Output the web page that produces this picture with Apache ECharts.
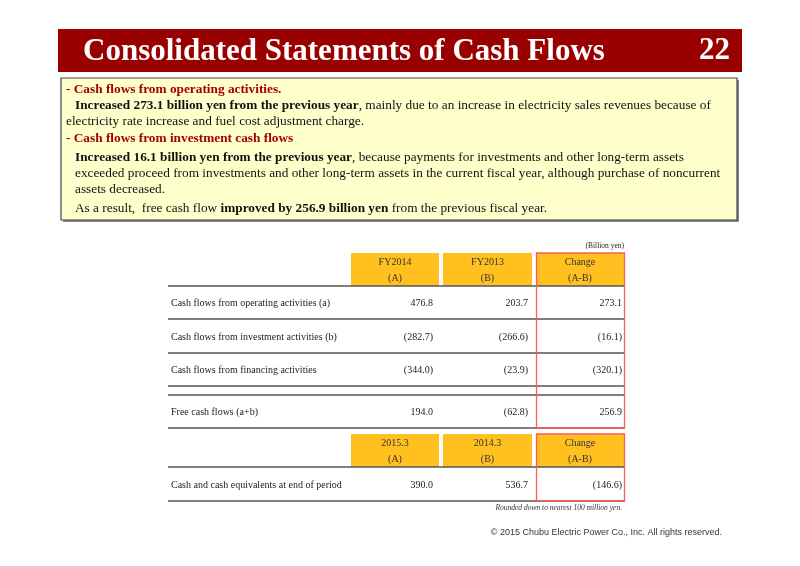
<!DOCTYPE html>
<html>
<head>
<meta charset="utf-8">
<script src="https://cdn.jsdelivr.net/npm/echarts@6/dist/echarts.min.js"></script>
<style>
  html, body { margin: 0; padding: 0; background: #fff; }
  #main { width: 800px; height: 566px; }
</style>
</head>
<body>
<div id="main"></div>
<script>
// table data (billion yen, negatives shown in brackets)
const rowLabels = [
  'Cash flows from operating activities (a)',
  'Cash flows from investment activities (b)',
  'Cash flows from financing activities',
  'Free cash flows (a+b)'
]
const fy2014 = [476.8, -282.7, -344.0, 194.0]
const fy2013 = [203.7, -266.6, -23.9, -62.8]
const change = [273.1, -16.1, -320.1, 256.9]
const headers1 = [['FY2014', '(A)'], ['FY2013', '(B)'], ['Change', '(A-B)']]

const cashLabels = ['Cash and cash equivalents at end of period']
const cash2015 = [390.0]
const cash2014 = [536.7]
const cashChange = [-146.6]
const headers2 = [['2015.3', '(A)'], ['2014.3', '(B)'], ['Change', '(A-B)']]

const SERIF = '"Liberation Serif", "DejaVu Serif", serif'
const RED = '#a50000'

const fmt = v => v < 0 ? '(' + Math.abs(v).toFixed(1) + ')' : v.toFixed(1)

const chart = echarts.init(document.getElementById('main'))
const g = []

const text = (x, y, str, o = {}) => g.push({
  type: 'text', x, y, z: 10,
  style: Object.assign({
    text: str, font: '10px ' + SERIF, fill: '#222',
    textAlign: 'left', textVerticalAlign: 'middle'
  }, o)
})
const hline = (x1, x2, y, c = '#555', w = 1.5) => g.push({
  type: 'line', shape: { x1, y1: y, x2, y2: y }, z: 5,
  style: { stroke: c, lineWidth: w }
})

// title bar
g.push({ type: 'rect', shape: { x: 58, y: 29, width: 684, height: 43 }, style: { fill: '#990000' } })
text(83, 52, 'Consolidated Statements of Cash Flows', { font: 'bold 31px ' + SERIF, fill: '#fff' })
text(730, 51, '22', { font: 'bold 31px ' + SERIF, fill: '#fff', textAlign: 'right' })

// summary box
g.push({ type: 'rect', shape: { x: 63, y: 80, width: 676, height: 142 }, style: { fill: '#888' } })
g.push({ type: 'rect', shape: { x: 61, y: 78, width: 676, height: 142 }, style: { fill: '#ffffcc', stroke: '#444', lineWidth: 1.2 } })

const rich = {
  r: { font: 'bold 13.3px ' + SERIF, fill: RED },
  b: { font: 'bold 13.3px ' + SERIF, fill: '#111' },
  n: { font: '13.3px ' + SERIF, fill: '#111' }
}
const boxLines = [
  [66, 90, '{r|- Cash flows from operating activities.}'],
  [75, 106, '{b|Increased 273.1 billion yen from the previous year}{n|, mainly due to an increase in electricity sales revenues because of}'],
  [66, 122, '{n|electricity rate increase and fuel cost adjustment charge.}'],
  [66, 139, '{r|- Cash flows from investment cash flows}'],
  [75, 158, '{b|Increased 16.1 billion yen from the previous year}{n|, because payments for investments and other long-term assets}'],
  [75, 174, '{n|exceeded proceed from investments and other long-term assets in the current fiscal year, although purchase of noncurrent}'],
  [75, 190, '{n|assets decreased.}'],
  [75, 209, '{n|As a result,  free cash flow }{b|improved by 256.9 billion yen}{n| from the previous fiscal year.}']
]
boxLines.forEach(([x, y, s]) => text(x, y, s, { rich }))

// table geometry
const L = 168, R = 625
const colRight = [433, 528, 622]
const cells = [[351, 88], [443, 89], [536, 88]]

const header = (top, h, labels) => {
  labels.forEach((lab, i) => {
    const [cx, cw] = cells[i]
    g.push({
      type: 'rect', shape: { x: cx, y: top, width: cw, height: h }, z: 2,
      style: { fill: '#ffc020' }
    })
    text(cx + cw / 2, top + 9, lab[0], { textAlign: 'center', fill: '#333' })
    text(cx + cw / 2, top + 25, lab[1], { textAlign: 'center', fill: '#333' })
  })
}
const row = (y, label, vals) => {
  text(171, y, label)
  vals.forEach((v, i) => text(colRight[i], y, fmt(v), { textAlign: 'right' }))
}

text(624, 246, '(Billion yen)', { font: '7.5px ' + SERIF, textAlign: 'right' })
header(253, 33, headers1)
hline(L, R, 286)
const ys = [303, 337, 370, 412]
rowLabels.forEach((lab, i) => row(ys[i], lab, [fy2014[i], fy2013[i], change[i]]))
hline(L, R, 319)
hline(L, R, 353)
hline(L, R, 386)
hline(L, R, 395)
hline(L, R, 428)
g.push({ type: 'rect', shape: { x: 536.5, y: 253, width: 88, height: 175 }, z: 8, style: { fill: 'none', stroke: '#ff5a5a', lineWidth: 1.3 } })

header(434, 33, headers2)
hline(L, R, 467)
cashLabels.forEach((lab, i) => row(485, lab, [cash2015[i], cash2014[i], cashChange[i]]))
hline(L, R, 501)
g.push({ type: 'rect', shape: { x: 536.5, y: 434, width: 88, height: 67 }, z: 8, style: { fill: 'none', stroke: '#ff5a5a', lineWidth: 1.3 } })

text(622, 508, 'Rounded down to nearest 100 million yen.', { font: 'italic 7.5px ' + SERIF, textAlign: 'right', fill: '#333' })
text(722, 533, '\u00a9 2015 Chubu Electric Power Co., Inc. All rights reserved.', { font: '9px "Liberation Sans", Arial, sans-serif', textAlign: 'right', fill: '#333' })

chart.setOption({
  backgroundColor: '#fff',
  animation: false,
  graphic: { elements: g }
})
</script>
</body>
</html>
